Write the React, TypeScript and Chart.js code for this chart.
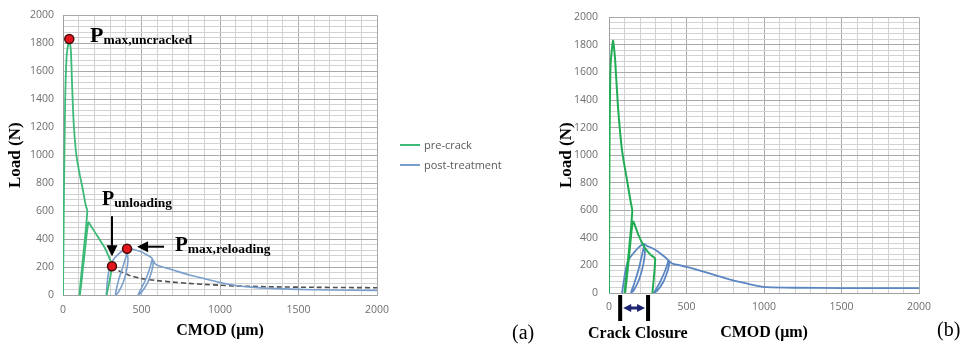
import React, { useEffect, useRef } from 'react';
import { Chart, registerables } from 'chart.js';
Chart.register(...registerables);

type Pt = [number, number];

// ---------- data ----------
const xMin = 0;
const xMax = 2000;
const yMin = 0;
const yMax = 2000;
const xLabelStep = 500;
const xGridStep = 100;
const yLabelStep = 200;
const yGridStep = 40;

const seriesNames = ['pre-crack', 'post-treatment'];

// chart (a)
const preCrackA: Pt[] = [
  [0, 0], [6, 700], [14, 1400], [24, 1720], [40, 1830], [50, 1750], [58, 1500], [68, 1230],
  [85, 1000], [105, 870], [125, 760], [145, 640], [155, 600],
  [132, 320], [104, 0],
  [108, 0], [136, 280], [162, 520],
  [180, 490], [220, 420], [265, 340], [295, 265], [312, 212],
  [298, 110], [278, 0],
];
const postTreatmentA: Pt[] = [
  [276, 0], [282, 90], [292, 170], [310, 230], [331, 268], [360, 300], [385, 320], [410, 333],
  [400, 270], [378, 190], [355, 110], [340, 40], [334, 0],
  [350, 15], [380, 80], [402, 160], [414, 250], [410, 333],
  [450, 326], [490, 312], [530, 290], [567, 262],
  [555, 200], [530, 120], [500, 50], [478, 0],
  [500, 20], [540, 90], [565, 170], [575, 230], [567, 262],
  [585, 226], [605, 211], [662, 192], [720, 172], [800, 145], [900, 117], [1000, 90],
  [1100, 68], [1200, 56], [1300, 48], [1500, 40], [1700, 36], [2000, 33],
];
const envelopeA: Pt[] = [
  [312, 206], [350, 176], [420, 142], [500, 118], [600, 103], [700, 92], [800, 83],
  [900, 76], [1000, 70], [1100, 65], [1300, 59], [1600, 55], [2000, 52],
];
const pMaxUncracked: Pt = [40, 1830];
const pUnloading: Pt = [312, 206];
const pMaxReloading: Pt = [408, 331];

// chart (b)
const preCrackB: Pt[] = [
  [0, 0], [3, 1000], [10, 1650], [26, 1830], [39, 1700], [58, 1350], [84, 1035], [116, 820],
  [140, 660], [150, 595],
  [128, 300], [100, 0],
  [104, 0], [130, 270], [155, 518],
  [190, 420], [232, 326], [270, 275], [297, 250],
  [290, 120], [280, 0],
];
const postTreatmentB: Pt[] = [
  [84, 0], [95, 80], [103, 142], [123, 234], [155, 285], [200, 340], [226, 355],
  [212, 270], [188, 160], [160, 60], [142, 0],
  [160, 20], [195, 100], [220, 200], [232, 290], [226, 355],
  [245, 342], [280, 325], [310, 305], [350, 270], [381, 238],
  [365, 170], [330, 80], [300, 20], [288, 0],
  [310, 15], [350, 80], [378, 160], [388, 210], [381, 238],
  [406, 215], [500, 190], [587, 163], [700, 125], [800, 92], [900, 66], [955, 52],
  [1020, 42], [1200, 38], [1500, 36], [2000, 35],
];
const crackClosureRange: [number, number] = [72, 252];

// ---------- styles ----------
const GREEN_A = '#3dba78';
const GREEN_B = '#22ad55';
const BLUE_A = '#7a9fcc';
const BLUE_B = '#5a86c2';
const GRID_MAJOR = '#a9a9a9';
const GRID_MINOR = '#d2d2d2';

const toXY = (pts: Pt[]) => pts.map(([x, y]) => ({ x, y }));

function drawArrow(ctx: CanvasRenderingContext2D, x1: number, y1: number, x2: number, y2: number,
  color: string, width: number, head: number) {
  const ang = Math.atan2(y2 - y1, x2 - x1);
  ctx.save();
  ctx.strokeStyle = color;
  ctx.fillStyle = color;
  ctx.lineWidth = width;
  ctx.beginPath();
  ctx.moveTo(x1, y1);
  ctx.lineTo(x2 - Math.cos(ang) * head * 0.8, y2 - Math.sin(ang) * head * 0.8);
  ctx.stroke();
  ctx.beginPath();
  ctx.moveTo(x2, y2);
  ctx.lineTo(x2 - head * Math.cos(ang) + head * 0.5 * Math.sin(ang), y2 - head * Math.sin(ang) - head * 0.5 * Math.cos(ang));
  ctx.lineTo(x2 - head * Math.cos(ang) - head * 0.5 * Math.sin(ang), y2 - head * Math.sin(ang) + head * 0.5 * Math.cos(ang));
  ctx.closePath();
  ctx.fill();
  ctx.restore();
}

function makeScales(o: { yWidth: number; xHeight: number; yTitlePad: number; xTitlePad: number; yTickPad: number; xTickPad: number }) {
  const tickFont = { family: '"Open Sans", sans-serif', size: 10.5 };
  const titleFont = { family: '"Liberation Serif", "Times New Roman", serif', size: 17, weight: 'bold' as const };
  const xGrid: number[] = [];
  for (let v = xMin; v <= xMax; v += xGridStep) xGrid.push(v);
  const yGrid: number[] = [];
  for (let v = yMin; v <= yMax; v += yGridStep) yGrid.push(v);
  return {
    x: {
      type: 'linear' as const,
      min: xMin,
      max: xMax,
      afterBuildTicks: (axis: any) => { axis.ticks = xGrid.map((value) => ({ value })); },
      afterFit: (scale: any) => { scale.height = o.xHeight; },
      ticks: {
        autoSkip: false,
        maxRotation: 0,
        padding: o.xTickPad,
        color: '#6e6e6e',
        font: tickFont,
        callback: (v: any) => (Number(v) % xLabelStep === 0 ? String(v) : ''),
      },
      grid: {
        drawTicks: false,
        lineWidth: 1,
        color: (ctx: any) => (ctx.tick && ctx.tick.value % xLabelStep === 0 ? GRID_MAJOR : GRID_MINOR),
      },
      border: { display: true, color: '#a0a0a0' },
      title: {
        display: true,
        text: 'CMOD (μm)',
        color: '#000',
        font: { ...titleFont, size: 16 },
        padding: { top: 0, bottom: o.xTitlePad },
      },
    },
    y: {
      type: 'linear' as const,
      min: yMin,
      max: yMax,
      afterBuildTicks: (axis: any) => { axis.ticks = yGrid.map((value) => ({ value })); },
      afterFit: (scale: any) => { scale.width = o.yWidth; },
      ticks: {
        autoSkip: false,
        padding: o.yTickPad,
        color: '#6e6e6e',
        font: tickFont,
        callback: (v: any) => (Number(v) % yLabelStep === 0 ? String(v) : ''),
      },
      grid: {
        drawTicks: false,
        lineWidth: 1,
        color: (ctx: any) => (ctx.tick && ctx.tick.value % yLabelStep === 0 ? GRID_MAJOR : GRID_MINOR),
      },
      border: { display: true, color: '#a0a0a0' },
      title: {
        display: true,
        text: 'Load (N)',
        color: '#000',
        font: titleFont,
        padding: { top: o.yTitlePad, bottom: 0 },
      },
    },
  };
}

const lineDs = (label: string, pts: Pt[], color: string, width: number, extra: any = {}) => ({
  label,
  data: toXY(pts),
  showLine: true,
  borderColor: color,
  backgroundColor: color,
  borderWidth: width,
  pointRadius: 0,
  pointHoverRadius: 0,
  tension: 0.2,
  order: 1,
  ...extra,
});

const serifBold = '"Liberation Serif", "Times New Roman", serif';

function PLabel({ left, baseline, sub, size }: { left: number; baseline: number; sub: string; size: number }) {
  return (
    <div style={{ position: 'absolute', left, top: baseline - 0.8375 * size, fontFamily: serifBold, fontWeight: 'bold',
      fontSize: size, lineHeight: `${size}px`, whiteSpace: 'nowrap', color: '#000' }}>
      <span>P</span>
      <span style={{ fontSize: 13.5, lineHeight: 0, position: 'relative', top: 2 }}>{sub}</span>
    </div>
  );
}

export default function App() {
  const refA = useRef<HTMLCanvasElement>(null);
  const refB = useRef<HTMLCanvasElement>(null);

  useEffect(() => {
    const annotA = {
      id: 'annotA',
      afterDatasetsDraw(chart: any) {
        const { ctx, scales } = chart;
        const ux = scales.x.getPixelForValue(pUnloading[0]);
        const uy = scales.y.getPixelForValue(pUnloading[1]);
        drawArrow(ctx, ux, uy - 50, ux, uy - 10, '#000', 2, 11);
        const rx = scales.x.getPixelForValue(pMaxReloading[0]);
        const ry = scales.y.getPixelForValue(pMaxReloading[1]);
        drawArrow(ctx, rx + 37, ry - 2, rx + 10, ry - 2, '#000', 2, 11);
      },
    };
    const annotB = {
      id: 'annotB',
      afterDatasetsDraw(chart: any) {
        const { ctx, scales, chartArea } = chart;
        const x1 = scales.x.getPixelForValue(crackClosureRange[0]);
        const x2 = scales.x.getPixelForValue(crackClosureRange[1]);
        const top = chartArea.bottom + 2;
        const bot = chartArea.bottom + 28;
        ctx.save();
        ctx.strokeStyle = '#000';
        ctx.lineWidth = 4;
        ctx.beginPath();
        ctx.moveTo(x1, top); ctx.lineTo(x1, bot);
        ctx.moveTo(x2, top); ctx.lineTo(x2, bot);
        ctx.stroke();
        ctx.restore();
        const my = chartArea.bottom + 15;
        const mid = (x1 + x2) / 2;
        drawArrow(ctx, mid, my, x2 - 3, my, '#1c2370', 3, 8);
        drawArrow(ctx, mid, my, x1 + 3, my, '#1c2370', 3, 8);
      },
    };

    const chartA = new Chart(refA.current as HTMLCanvasElement, {
      type: 'scatter',
      data: {
        datasets: [
          {
            label: 'markers',
            data: toXY([pMaxUncracked, pUnloading, pMaxReloading]),
            pointRadius: 4.5,
            pointBackgroundColor: '#e3161d',
            pointBorderColor: '#4a0a0a',
            pointBorderWidth: 1.5,
            showLine: false,
            order: 0,
          } as any,
          lineDs(seriesNames[0], preCrackA, GREEN_A, 1.8),
          lineDs(seriesNames[1], postTreatmentA, BLUE_A, 1.6),
          lineDs('envelope', envelopeA, '#505050', 1.6, { borderDash: [5, 3], tension: 0.3 }),
        ],
      },
      options: {
        responsive: false,
        animation: false,
        devicePixelRatio: 1,
        layout: { padding: { top: 11, right: 173, bottom: 0, left: 0 } },
        plugins: { legend: { display: false }, tooltip: { enabled: false } },
        scales: makeScales({ yWidth: 63, xHeight: 55, yTitlePad: 5, xTitlePad: 10, yTickPad: 9, xTickPad: 9 }) as any,
      },
      plugins: [annotA],
    });

    const chartB = new Chart(refB.current as HTMLCanvasElement, {
      type: 'scatter',
      data: {
        datasets: [
          lineDs(seriesNames[0], preCrackB, GREEN_B, 2),
          lineDs(seriesNames[1], postTreatmentB, BLUE_B, 1.8),
        ],
      },
      options: {
        responsive: false,
        animation: false,
        devicePixelRatio: 1,
        layout: { padding: { top: 11, right: 50, bottom: 0, left: 0 } },
        plugins: { legend: { display: false }, tooltip: { enabled: false } },
        scales: makeScales({ yWidth: 59, xHeight: 57, yTitlePad: 6, xTitlePad: 8, yTickPad: 11, xTickPad: 8 }) as any,
      },
      plugins: [annotB],
    });

    return () => {
      chartA.destroy();
      chartB.destroy();
    };
  }, []);

  const legendText = { fontFamily: '"Open Sans", sans-serif', fontSize: 11, color: '#595959', lineHeight: '14px' };

  return (
    <div style={{ position: 'fixed', left: 0, top: 0, width: 969, height: 350, background: '#fff', overflow: 'hidden' }}>
      <canvas ref={refA} width={550} height={350} style={{ position: 'absolute', left: 0, top: 0 }} />
      <canvas ref={refB} width={419} height={350} style={{ position: 'absolute', left: 550, top: 0 }} />

      {/* legend of (a) */}
      {[GREEN_A, BLUE_A].map((c, i) => (
        <div key={i} style={{ position: 'absolute', left: 400, top: 138 + i * 20, display: 'flex', alignItems: 'center', height: 14 }}>
          <div style={{ width: 20, height: 2, background: c, marginRight: 4 }} />
          <span style={legendText}>{seriesNames[i]}</span>
        </div>
      ))}

      <PLabel left={90} baseline={42} sub="max,uncracked" size={22} />
      <PLabel left={102} baseline={205} sub="unloading" size={20} />
      <PLabel left={175} baseline={252} sub="max,reloading" size={21} />

      <div style={{ position: 'absolute', left: 588, top: 338 - 0.8375 * 16, fontFamily: serifBold, fontWeight: 'bold', fontSize: 16, lineHeight: '16px', whiteSpace: 'nowrap' }}>
        Crack Closure
      </div>
      <div style={{ position: 'absolute', left: 512, top: 339 - 0.8375 * 20, fontFamily: serifBold, fontSize: 20, lineHeight: '20px' }}>(a)</div>
      <div style={{ position: 'absolute', left: 937, top: 336 - 0.8375 * 20, fontFamily: serifBold, fontSize: 20, lineHeight: '20px' }}>(b)</div>
    </div>
  );
}
